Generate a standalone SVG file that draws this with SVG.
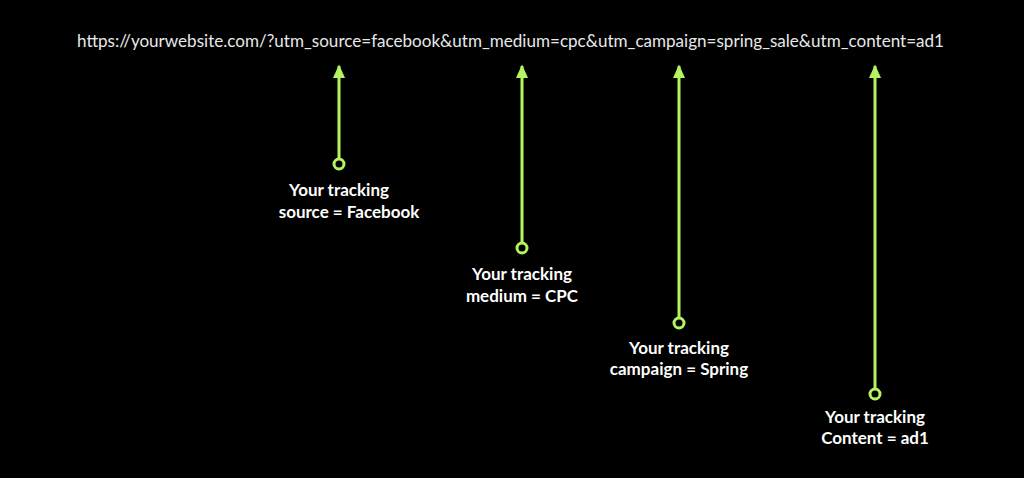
<svg xmlns="http://www.w3.org/2000/svg" width="1024" height="478" viewBox="0 0 1024 478">
<style>
.url{font-family:Lato,"Liberation Sans",sans-serif;font-size:17px;fill:#e8e8e8}
.lbl{font-family:Lato,"Liberation Sans",sans-serif;font-size:17px;font-weight:bold;fill:#ffffff;text-anchor:middle}
.ln{stroke:#b4f461;stroke-width:3;fill:none}
.dot{stroke:#b4f461;stroke-width:3;fill:#000}
</style>
<defs><marker id="ah" markerWidth="5" markerHeight="4" refX="4" refY="2" orient="auto"><path d="M0,0L4.5,2L0,4Z" fill="#b4f461"/></marker></defs>
<rect width="1024" height="478" fill="#000"/>
<text class="url" x="77" y="47" textLength="867" lengthAdjust="spacingAndGlyphs">https://yourwebsite.com/?utm_source=facebook&amp;utm_medium=cpc&amp;utm_campaign=spring_sale&amp;utm_content=ad1</text>
<g id="connectors">
<line class="ln" x1="339" y1="159" x2="339" y2="66" marker-end="url(#ah)"/>
<line class="ln" x1="522" y1="243" x2="522" y2="66" marker-end="url(#ah)"/>
<line class="ln" x1="679" y1="318" x2="679" y2="66" marker-end="url(#ah)"/>
<line class="ln" x1="875" y1="389" x2="875" y2="66" marker-end="url(#ah)"/>
</g>
<g id="source"><circle class="dot" cx="339" cy="164" r="5"/><text class="lbl" x="339" y="196">Your tracking</text><text class="lbl" x="349" y="218">source = Facebook</text></g>
<g id="medium"><circle class="dot" cx="522" cy="248" r="5"/><text class="lbl" x="522" y="280">Your tracking</text><text class="lbl" x="522" y="302">medium = CPC</text></g>
<g id="campaign"><circle class="dot" cx="679" cy="323" r="5"/><text class="lbl" x="679" y="354">Your tracking</text><text class="lbl" x="679" y="375">campaign = Spring</text></g>
<g id="content"><circle class="dot" cx="875" cy="394" r="5"/><text class="lbl" x="875" y="423">Your tracking</text><text class="lbl" x="875" y="444">Content = ad1</text></g>
</svg>
